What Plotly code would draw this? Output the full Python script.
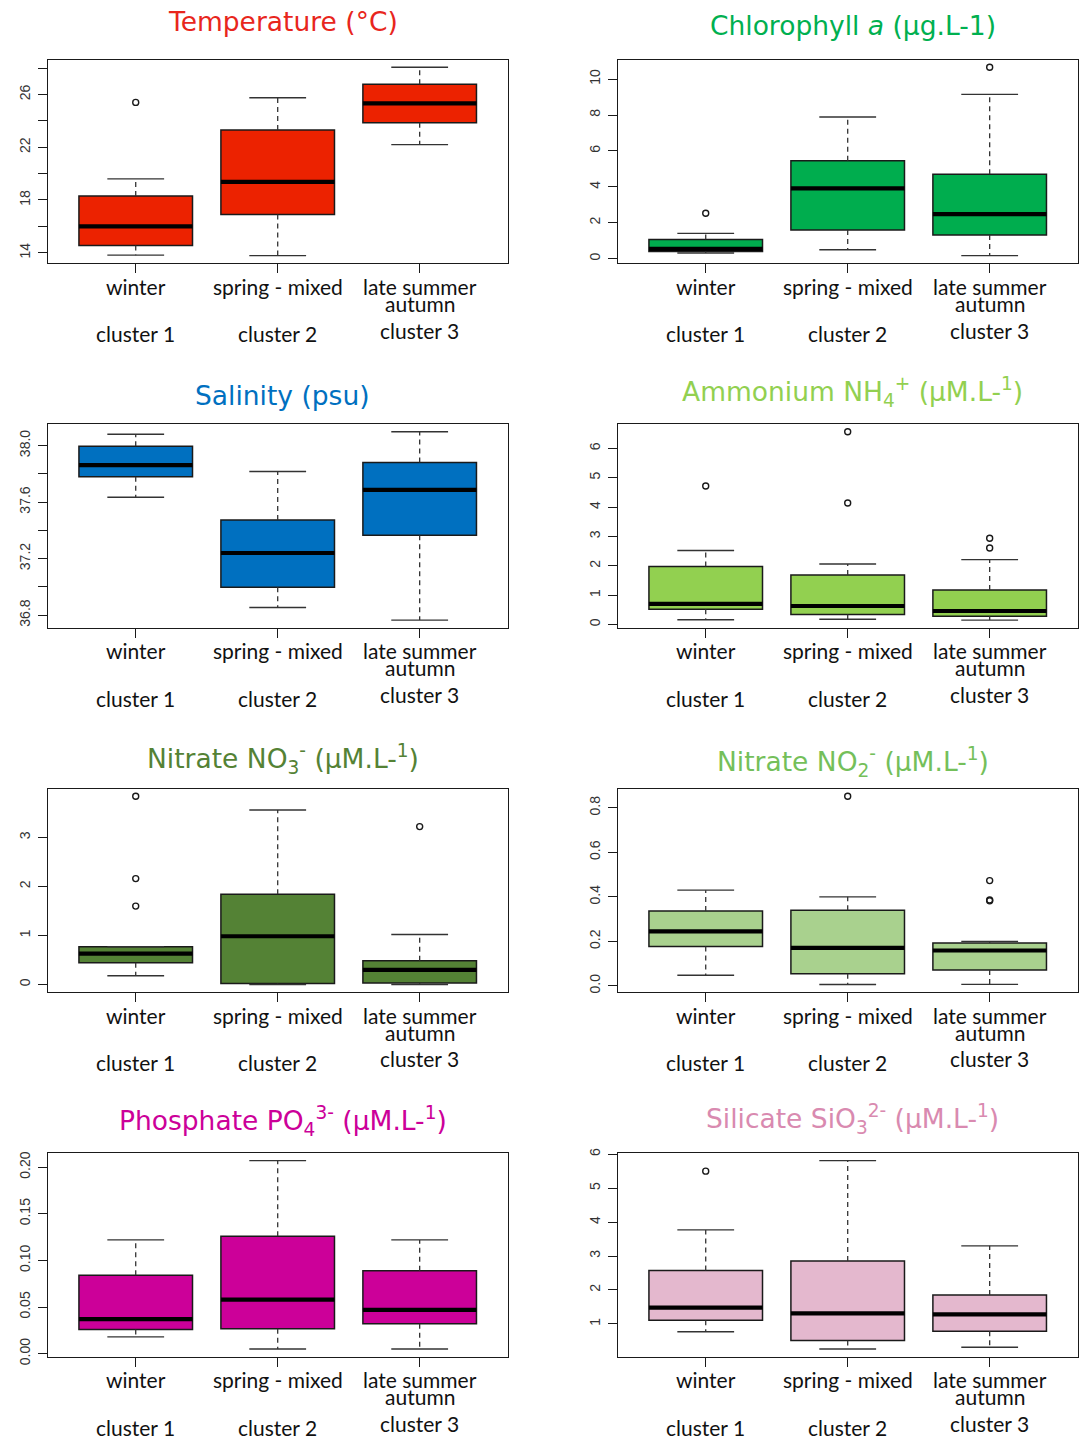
import plotly.graph_objects as go

W, H = 1079, 1452

# Category labels shared by every panel
positions = [1, 2, 3]
seasons = ["winter", "spring - mixed", "late summer"]
seasons_2nd = ["", "", "autumn"]
clusters = ["cluster 1", "cluster 2", "cluster 3"]

# Box statistics per cluster: lower whisker, Q1, median, Q3, upper whisker, outliers
temp_lo = [13.82, 13.78, 22.20]
temp_q1 = [14.55, 16.90, 23.85]
temp_med = [16.00, 19.38, 25.33]
temp_q3 = [18.30, 23.30, 26.78]
temp_hi = [19.60, 25.75, 28.06]
temp_out = [[25.40], [], []]
temp_ticks = [14, 18, 22, 26]
temp_minor = [16, 20, 24, 28]

chl_lo = [0.32, 0.50, 0.17]
chl_q1 = [0.40, 1.60, 1.32]
chl_med = [0.55, 3.92, 2.48]
chl_q3 = [1.07, 5.46, 4.71]
chl_hi = [1.41, 7.89, 9.15]
chl_out = [[2.53], [], [10.66]]
chl_ticks = [0, 2, 4, 6, 8, 10]
chl_minor = []

sal_lo = [37.635, 36.854, 36.765]
sal_q1 = [37.780, 36.997, 37.366]
sal_med = [37.862, 37.240, 37.686]
sal_q3 = [37.995, 37.474, 37.880]
sal_hi = [38.080, 37.817, 38.098]
sal_out = [[], [], []]
sal_ticks = [36.8, 37.2, 37.6, 38.0]
sal_minor = [37.0, 37.4, 37.8]

nh4_lo = [0.16, 0.18, 0.15]
nh4_q1 = [0.52, 0.34, 0.28]
nh4_med = [0.70, 0.63, 0.46]
nh4_q3 = [1.98, 1.69, 1.18]
nh4_hi = [2.52, 2.06, 2.21]
nh4_out = [[4.72], [6.57, 4.14], [2.94, 2.61]]
nh4_ticks = [0, 1, 2, 3, 4, 5, 6]
nh4_minor = []

no3_lo = [0.18, 0.00, 0.00]
no3_q1 = [0.445, 0.02, 0.03]
no3_med = [0.63, 0.985, 0.30]
no3_q3 = [0.77, 1.84, 0.485]
no3_hi = [0.77, 3.56, 1.02]
no3_out = [[3.84, 2.16, 1.60], [], [3.22]]
no3_ticks = [0, 1, 2, 3]
no3_minor = []

no2_lo = [0.048, 0.006, 0.007]
no2_q1 = [0.177, 0.055, 0.071]
no2_med = [0.245, 0.171, 0.159]
no2_q3 = [0.336, 0.340, 0.193]
no2_hi = [0.430, 0.400, 0.200]
no2_out = [[], [0.852], [0.473, 0.386, 0.382]]
no2_ticks = [0.0, 0.2, 0.4, 0.6, 0.8]
no2_minor = []

po4_lo = [0.018, 0.005, 0.005]
po4_q1 = [0.026, 0.0266, 0.032]
po4_med = [0.037, 0.058, 0.047]
po4_q3 = [0.084, 0.126, 0.089]
po4_hi = [0.122, 0.207, 0.122]
po4_out = [[], [], []]
po4_ticks = [0.0, 0.05, 0.10, 0.15, 0.20]
po4_minor = []

sio_lo = [0.77, 0.26, 0.31]
sio_q1 = [1.11, 0.51, 0.78]
sio_med = [1.48, 1.31, 1.28]
sio_q3 = [2.57, 2.85, 1.85]
sio_hi = [3.77, 5.81, 3.30]
sio_out = [[5.50], [], []]
sio_ticks = [1, 2, 3, 4, 5, 6]
sio_minor = []

panels = [
    dict(title="Temperature (°C)", tcolor="#E8261C", fill="#EC2200",
         lo=temp_lo, q1=temp_q1, med=temp_med, q3=temp_q3, hi=temp_hi, out=temp_out,
         ticks=temp_ticks, minor=temp_minor, fmt=".0f", row=0, col=0, ty=17),
    dict(title="Chlorophyll <i>a</i> (µg.L-1)", tcolor="#00B050", fill="#00AD4E",
         lo=chl_lo, q1=chl_q1, med=chl_med, q3=chl_q3, hi=chl_hi, out=chl_out,
         ticks=chl_ticks, minor=chl_minor, fmt=".0f", row=0, col=1, ty=21),
    dict(title="Salinity (psu)", tcolor="#0070C0", fill="#0070C0",
         lo=sal_lo, q1=sal_q1, med=sal_med, q3=sal_q3, hi=sal_hi, out=sal_out,
         ticks=sal_ticks, minor=sal_minor, fmt=".1f", row=1, col=0, ty=394),
    dict(title="Ammonium NH<sub>4</sub><sup>+</sup> (µM.L-<sup>1</sup>)", tcolor="#92D050", fill="#92D050",
         lo=nh4_lo, q1=nh4_q1, med=nh4_med, q3=nh4_q3, hi=nh4_hi, out=nh4_out,
         ticks=nh4_ticks, minor=nh4_minor, fmt=".0f", row=1, col=1, ty=391),
    dict(title="Nitrate NO<sub>3</sub><sup>-</sup> (µM.L-<sup>1</sup>)", tcolor="#548235", fill="#548235",
         lo=no3_lo, q1=no3_q1, med=no3_med, q3=no3_q3, hi=no3_hi, out=no3_out,
         ticks=no3_ticks, minor=no3_minor, fmt=".0f", row=2, col=0, ty=761),
    dict(title="Nitrate NO<sub>2</sub><sup>-</sup> (µM.L-<sup>1</sup>)", tcolor="#74BF5A", fill="#A9D18E",
         lo=no2_lo, q1=no2_q1, med=no2_med, q3=no2_q3, hi=no2_hi, out=no2_out,
         ticks=no2_ticks, minor=no2_minor, fmt=".1f", row=2, col=1, ty=764),
    dict(title="Phosphate PO<sub>4</sub><sup>3-</sup> (µM.L-<sup>1</sup>)", tcolor="#CC0099", fill="#CC0099",
         lo=po4_lo, q1=po4_q1, med=po4_med, q3=po4_q3, hi=po4_hi, out=po4_out,
         ticks=po4_ticks, minor=po4_minor, fmt=".2f", row=3, col=0, ty=1127),
    dict(title="Silicate SiO<sub>3</sub><sup>2-</sup> (µM.L-<sup>1</sup>)", tcolor="#D98AB0", fill="#E4B8CE",
         lo=sio_lo, q1=sio_q1, med=sio_med, q3=sio_q3, hi=sio_hi, out=sio_out,
         ticks=sio_ticks, minor=sio_minor, fmt=".0f", row=3, col=1, ty=1125),
]

INK = "#1a1a1a"
BOXWEX = 0.8
label_font = dict(family="Lato, Open Sans, sans-serif", size=21, color="#111111")

fig = go.Figure()
layout = {}
annotations = []

for i, p in enumerate(panels):
    k = i + 1
    xa = "x" if k == 1 else f"x{k}"
    ya = "y" if k == 1 else f"y{k}"
    x0 = 47.7 + 570 * p["col"]
    x1 = x0 + 460
    top = 55.3 + 368 * p["row"]
    bot = top + 205.4

    common = dict(xaxis=xa, yaxis=ya, showlegend=False, hoverinfo="skip")

    # filled boxes (Q1..Q3)
    fig.add_trace(go.Box(x=positions, q1=p["q1"], median=p["med"], q3=p["q3"],
                         lowerfence=p["q1"], upperfence=p["q3"], width=BOXWEX,
                         fillcolor=p["fill"], line=dict(color=INK, width=1.5),
                         whiskerwidth=0, boxpoints=False, **common))

    # dashed whiskers, staples and thick medians
    wx, wy, cx, cy, mx, my = [], [], [], [], [], []
    for j, xp in enumerate(positions):
        wx += [xp, xp, None, xp, xp, None]
        wy += [p["q3"][j], p["hi"][j], None, p["q1"][j], p["lo"][j], None]
        for v in (p["hi"][j], p["lo"][j]):
            cx += [xp - BOXWEX / 4, xp + BOXWEX / 4, None]
            cy += [v, v, None]
        mx += [xp - BOXWEX / 2, xp + BOXWEX / 2, None]
        my += [p["med"][j], p["med"][j], None]
    fig.add_trace(go.Scatter(x=wx, y=wy, mode="lines",
                             line=dict(color="#333333", width=1.3, dash="5px,4px"), **common))
    fig.add_trace(go.Scatter(x=cx, y=cy, mode="lines",
                             line=dict(color="#333333", width=1.4), **common))
    fig.add_trace(go.Scatter(x=mx, y=my, mode="lines",
                             line=dict(color="#000000", width=4.2), **common))

    # outliers
    ox, oy = [], []
    for j, xp in enumerate(positions):
        ox += [xp] * len(p["out"][j])
        oy += p["out"][j]
    if ox:
        fig.add_trace(go.Scatter(x=ox, y=oy, mode="markers",
                                 marker=dict(symbol="circle-open", size=6,
                                             color=INK, line=dict(width=1.4, color=INK)),
                                 **common))

    # R-style axis limits: data extent widened by 4%
    vals = p["lo"] + p["hi"] + [v for o in p["out"] for v in o]
    vmin, vmax = min(vals), max(vals)
    pad = 0.04 * (vmax - vmin)

    key = "" if k == 1 else str(k)
    layout["xaxis" + key] = dict(
        domain=[x0 / W, x1 / W], anchor=ya, range=[0.38, 3.62],
        showline=True, mirror=True, linecolor=INK, linewidth=1.4,
        ticks="outside", tickvals=positions, ticklen=9, tickcolor=INK, tickwidth=1.2,
        showticklabels=False, showgrid=False, zeroline=False, fixedrange=True)
    yax = dict(
        domain=[1 - bot / H, 1 - top / H], anchor=xa, range=[vmin - pad, vmax + pad],
        showline=True, mirror=True, linecolor=INK, linewidth=1.4,
        ticks="outside", tickvals=p["ticks"], tickformat=p["fmt"], ticklen=8.5,
        tickcolor=INK, tickwidth=1.2, tickangle=-90, ticklabelstandoff=2,
        tickfont=dict(family="Liberation Sans, Arial, sans-serif", size=14, color="#333333"),
        showgrid=False, zeroline=False, fixedrange=True)
    if p["minor"]:
        yax["minor"] = dict(tickvals=p["minor"], ticks="outside", ticklen=8.5,
                            tickcolor=INK, tickwidth=1.2, showgrid=False)
    layout["yaxis" + key] = yax

    # panel title
    annotations.append(dict(
        text=p["title"], xref="paper", yref="paper",
        x=((x0 + x1) / 2 + 5) / W, y=1 - p["ty"] / H,
        xanchor="center", yanchor="middle", showarrow=False,
        font=dict(family="DejaVu Sans, Verdana, sans-serif", size=26.5, color=p["tcolor"])))

    # season and cluster labels under each box
    for j, xp in enumerate(positions):
        annotations.append(dict(text=seasons[j], xref=xa, yref="paper", x=xp,
                                y=1 - (bot + 23.5) / H, xanchor="center", yanchor="middle",
                                showarrow=False, font=label_font))
        if seasons_2nd[j]:
            annotations.append(dict(text=seasons_2nd[j], xref=xa, yref="paper", x=xp,
                                    y=1 - (bot + 40.5) / H, xanchor="center", yanchor="middle",
                                    showarrow=False, font=label_font))
        annotations.append(dict(text=clusters[j], xref=xa, yref="paper", x=xp,
                                y=1 - (bot + (67.5 if seasons_2nd[j] else 71.5)) / H,
                                xanchor="center", yanchor="middle",
                                showarrow=False, font=label_font))

fig.update_layout(
    width=W, height=H, autosize=False,
    margin=dict(l=0, r=0, t=0, b=0),
    paper_bgcolor="white", plot_bgcolor="white",
    annotations=annotations, **layout)

fig.write_html("out.html")
